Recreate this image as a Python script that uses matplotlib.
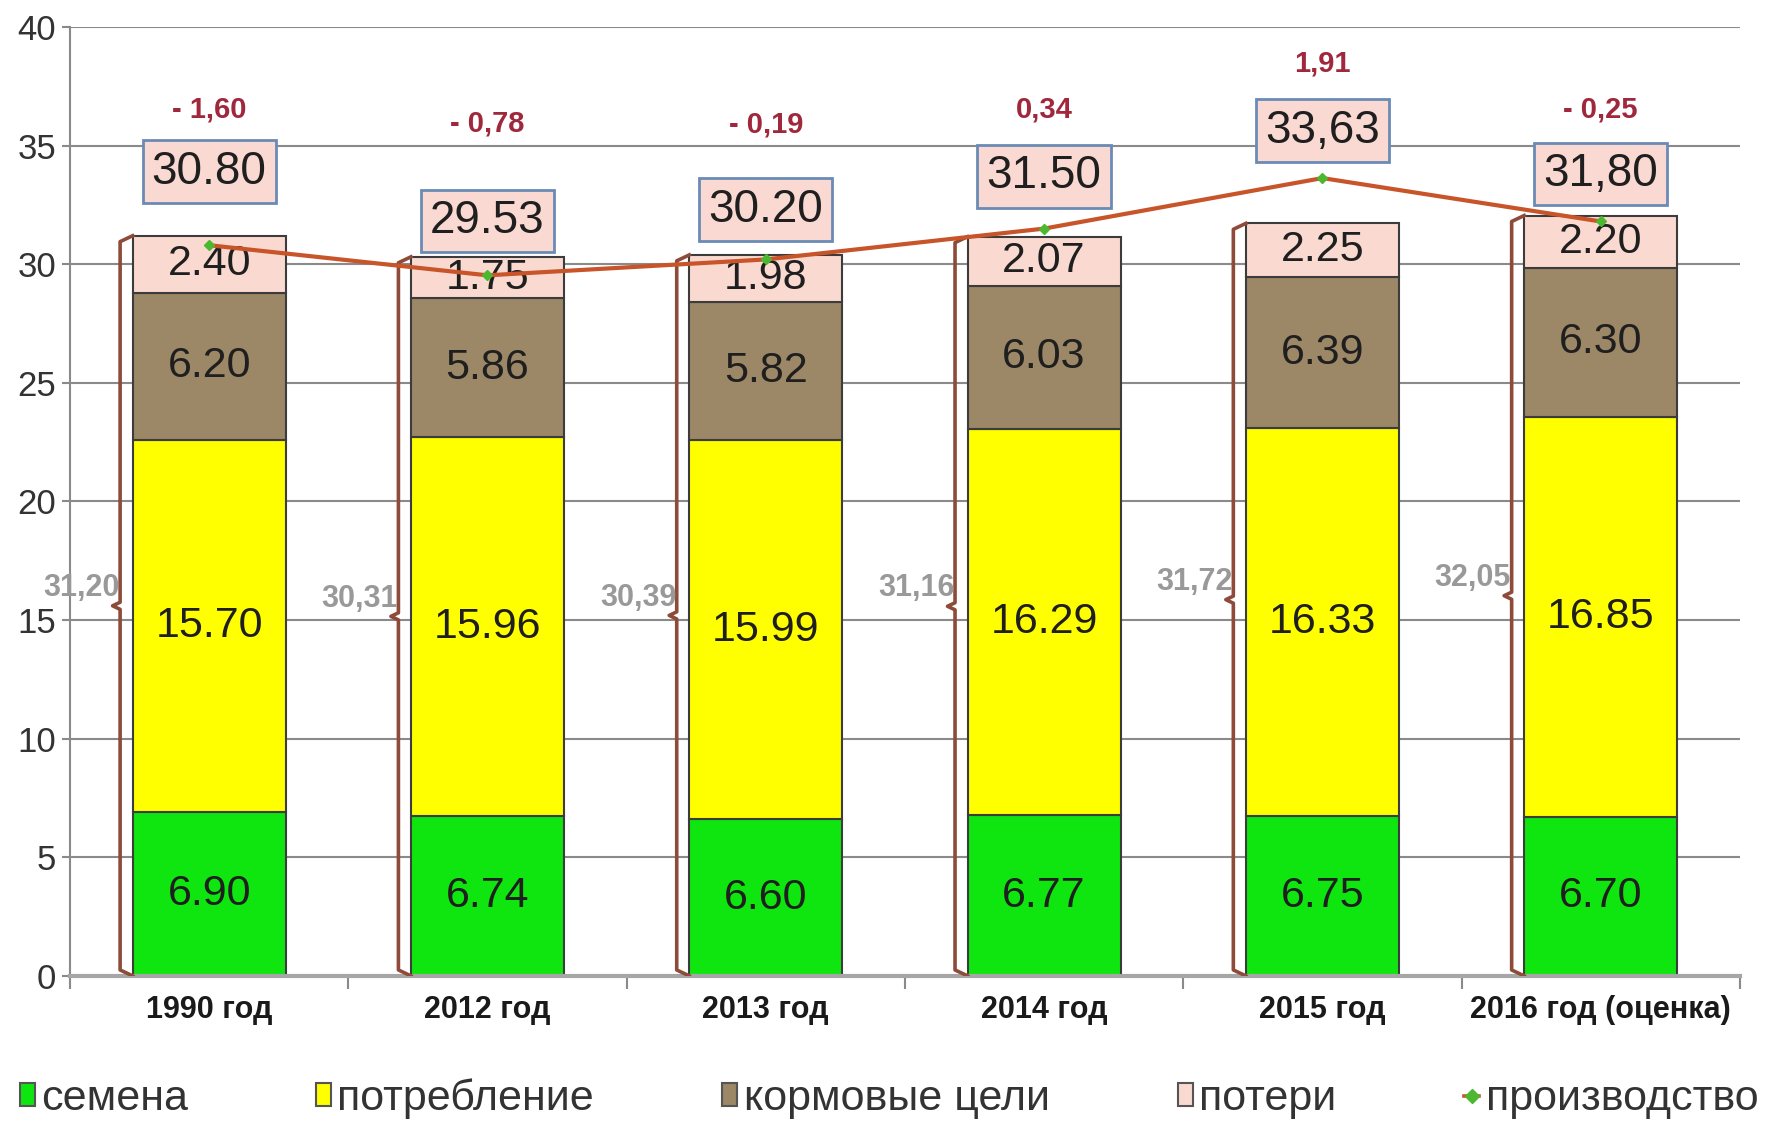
import numpy as np
import matplotlib
matplotlib.use('Agg')
import matplotlib.pyplot as plt
from matplotlib.patches import Patch
from matplotlib.lines import Line2D

plt.rcParams['font.family'] = ['Liberation Sans', 'DejaVu Sans']

years = ['1990 год', '2012 год', '2013 год', '2014 год', '2015 год', '2016 год (оценка)']
semena = [6.90, 6.74, 6.60, 6.77, 6.75, 6.70]
potreblenie = [15.70, 15.96, 15.99, 16.29, 16.33, 16.85]
kormovye = [6.20, 5.86, 5.82, 6.03, 6.39, 6.30]
poteri = [2.40, 1.75, 1.98, 2.07, 2.25, 2.20]
proizvodstvo = [30.80, 29.53, 30.20, 31.50, 33.63, 31.80]
prod_labels = ['30.80', '29.53', '30.20', '31.50', '33,63', '31,80']
total_labels = ['31,20', '30,31', '30,39', '31,16', '31,72', '32,05']
balance_labels = ['- 1,60', '- 0,78', '- 0,19', '0,34', '1,91', '- 0,25']

# label layout, data units above the production point
box_dy = [3.1, 2.3, 2.1, 2.2, 2.0, 2.0]
bal_dy = [2.6, 4.1, 3.6, 2.8, 2.85, 2.7]

series = [semena, potreblenie, kormovye, poteri]
names = ['семена', 'потребление', 'кормовые цели', 'потери']
colors = ['#0FE60F', '#FFFF00', '#9C8766', '#FADAD0']

fig = plt.figure(figsize=(17.77, 11.23), dpi=100)
ax = fig.add_axes([0.0394, 0.131, 0.9397, 0.845])

x = np.arange(len(years))
w = 0.55
bottom = np.zeros(len(years))
for vals, c in zip(series, colors):
    ax.bar(x, vals, width=w, bottom=bottom, color=c, edgecolor='#3c3c3c', linewidth=1.5, zorder=2)
    for i, v in enumerate(vals):
        ax.text(x[i], bottom[i] + v / 2, f'{v:.2f}', ha='center', va='center',
                fontsize=31, color='#1f1f1f', zorder=3)
    bottom += np.array(vals)
totals = bottom

# brackets with totals
h = 0.045
for i, t in enumerate(totals):
    xb = x[i] - w / 2 - h
    ys = [0, 0.25, t / 2 - 0.15, t / 2, t / 2 + 0.15, t - 0.25, t]
    xs = [xb + h, xb, xb, xb - h * 0.6, xb, xb, xb + h]
    ax.plot(xs, ys, color='#8E4B3A', lw=2.6, zorder=3, solid_joinstyle='round')
    ax.annotate(total_labels[i], xy=(xb - h * 0.6, t / 2), xytext=(5, 2),
                textcoords='offset points', ha='right', va='bottom',
                color='#999999', fontsize=22, fontweight='bold', zorder=4)

# production line
ax.plot(x, proizvodstvo, color='#C8552A', lw=3, marker='D', markersize=5,
        markerfacecolor='#4CB830', markeredgecolor='#4CB830', zorder=4)
for i, p in enumerate(proizvodstvo):
    yb = p + box_dy[i]
    ax.text(x[i], yb, prod_labels[i], ha='center', va='center', fontsize=33,
            color='#1f1f1f', zorder=6,
            bbox=dict(boxstyle='square,pad=0.2', fc='#F9D9D2', ec='#6A8BB5', lw=2))
    ax.text(x[i], yb + bal_dy[i], balance_labels[i], ha='center', va='center',
            fontsize=21, fontweight='bold', color='#A0283C', zorder=6)

ax.set_xlim(-0.5, len(years) - 0.5)
ax.set_ylim(0, 40)
ax.set_yticks(np.arange(0, 41, 5))
ax.yaxis.grid(True, color='#8a8a8a', lw=1.5, zorder=0)
ax.set_axisbelow(True)
for s in ['top', 'right']:
    ax.spines[s].set_visible(False)
ax.spines['left'].set_color('#8a8a8a')
ax.spines['left'].set_linewidth(1.5)
ax.spines['bottom'].set_color('#a6a6a6')
ax.spines['bottom'].set_linewidth(3)

ax.set_xticks(x)
ax.set_xticklabels(years, fontweight='bold')
ax.set_xticks(np.arange(-0.5, len(years)), minor=True)
ax.tick_params(axis='x', which='major', length=0, pad=14, labelsize=22, labelcolor='#1a1a1a')
ax.tick_params(axis='x', which='minor', length=9, width=1.5, color='#8a8a8a', direction='out')
ax.tick_params(axis='y', length=6, width=1.5, color='#8a8a8a', pad=4, labelsize=25, labelcolor='#333333')

handles = [Patch(facecolor=c, edgecolor='#555555', linewidth=1.5) for c in colors]
handles.append(Line2D([0], [0], color='#C8552A', lw=2.6, marker='D', markersize=7,
                      markerfacecolor='#4CB830', markeredgecolor='#4CB830'))
fig.legend(handles, names + ['производство'], loc='center left', bbox_to_anchor=(0.011, 0.022),
           ncol=5, frameon=False, fontsize=31, handlelength=0.35, handleheight=0.45,
           handletextpad=0.15, columnspacing=2.97, borderpad=0, borderaxespad=0,
           labelcolor='#333333')

fig.savefig('out.png', dpi=100)
